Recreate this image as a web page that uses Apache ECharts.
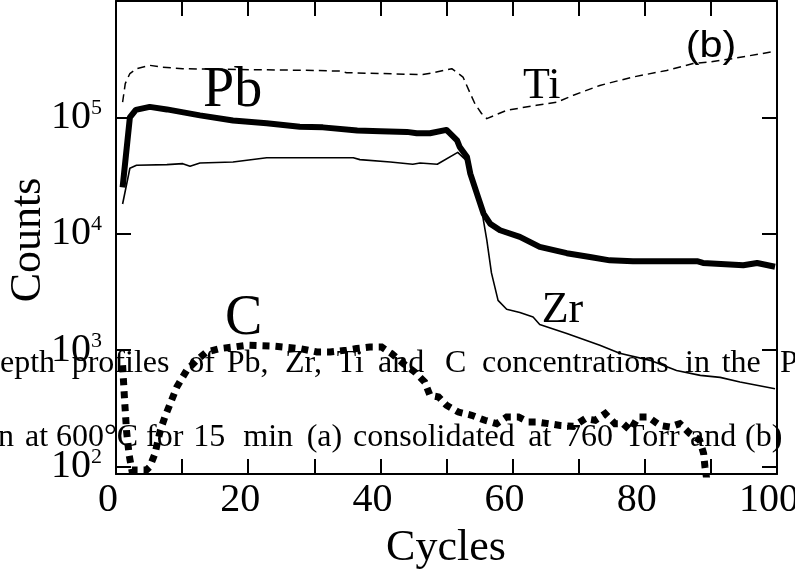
<!DOCTYPE html>
<html>
<head>
<meta charset="utf-8">
<script src="https://cdn.jsdelivr.net/npm/echarts@6/dist/echarts.min.js"></script>
<style>
  html, body { margin: 0; padding: 0; background: #fff; }
  #chart { width: 795px; height: 580px; }
</style>
</head>
<body>
<div id="chart"></div>
<script>
// Depth profile data: sputter cycle vs. counts (log scale)
const pbCycles = [1, 2.1, 3, 5.1, 7.7, 12.7, 17.7, 22.8, 27.8, 31.3, 36.5, 40, 44, 45.5, 47.5, 50, 51.6, 52, 53.1, 53.6, 54.6, 55.6, 56.6, 58.1, 61.1, 64.1, 68.2, 71.7, 74.7, 78.2, 87.9, 88.8, 94.9, 97, 99.7];
const pbCounts = [25000, 100000, 116000, 123000, 117000, 104000, 94000, 89000, 83000, 82000, 77000, 76000, 75000, 73000, 73000, 78000, 63400, 55600, 45600, 32800, 22100, 14900, 12200, 10700, 9400, 7700, 6800, 6300, 5900, 5800, 5800, 5600, 5350, 5600, 5200];

const zrCycles = [1, 2.1, 3.1, 7.7, 10.1, 11.2, 12.7, 17.7, 22.8, 35.9, 36.9, 41.5, 44.9, 46, 48.6, 51.7, 53.1, 53.6, 54.6, 55.4, 56.1, 56.8, 57.8, 59.1, 61.1, 63.1, 64.1, 68.2, 73.2, 76.2, 80.8, 84.8, 88.4, 91.4, 94.4, 99.7];
const zrCounts = [18000, 36500, 38700, 39200, 40000, 38000, 40500, 41300, 45000, 45000, 43300, 41300, 39500, 40500, 39500, 50000, 42000, 31000, 21000, 15000, 8800, 4600, 2670, 2240, 2100, 1920, 1660, 1390, 1100, 937, 815, 668, 606, 582, 531, 464];

const tiCycles = [1, 1.4, 2.1, 3.1, 5.1, 6.7, 10.1, 20.3, 27.8, 33.9, 34.9, 46.4, 48, 50.8, 52.5, 53.6, 54.3, 55.3, 56.1, 59.1, 63.6, 66.7, 69.2, 73.2, 76.2, 78.2, 83.3, 87.3, 89.9, 93.3, 99.7];
const tiCounts = [135000, 195000, 238000, 262000, 280000, 271000, 262000, 257000, 254000, 250000, 242000, 233000, 242000, 262000, 222000, 160000, 131000, 108000, 97500, 115000, 127000, 135000, 155000, 188000, 208000, 222000, 253000, 290000, 299000, 320000, 369000];

const cCycles = [1, 1.3, 1.6, 2, 2.4, 3.5, 4.6, 5.1, 5.9, 6.7, 7.4, 8.2, 9.2, 10.7, 12.2, 13.7, 15.7, 17.7, 19.8, 23.8, 27.8, 30.4, 32.4, 34.9, 36.4, 38.4, 40.2, 41.7, 43.5, 45.2, 46.7, 47.5, 48.8, 50, 51.8, 53.8, 55.8, 57.6, 59.1, 60.9, 62.4, 63.6, 65.4, 67.2, 69.2, 71, 72.5, 74, 75.5, 76.7, 77.8, 79, 80.5, 82.3, 83.8, 85.3, 86.8, 88.3, 88.9, 89.1, 89.4];
const cCounts = [740, 370, 200, 124, 93, 93, 93, 99, 129, 204, 266, 346, 481, 670, 815, 962, 1030, 1060, 1100, 1080, 1030, 962, 962, 998, 1030, 1060, 1060, 931, 764, 647, 531, 408, 395, 335, 293, 275, 249, 233, 266, 266, 241, 241, 233, 225, 221, 257, 249, 284, 233, 233, 204, 266, 266, 225, 218, 233, 192, 168, 129, 99, 75];

const xTickLabels = [0, 20, 40, 60, 80, 100];
const yTickValues = [100, 1000, 10000, 100000];

// Caption words (set justified, so each word sits at its own x)
const captionLine1 = ['epth', 'profiles', 'of', 'Pb,', 'Zr,', 'Ti', 'and', 'C', 'concentrations', 'in', 'the', 'P'];
const captionLine1X = [0, 71.7, 188.3, 226.7, 285, 336.7, 378, 445, 482, 685, 721.7, 780];
const captionLine2 = ['n', 'at', '600°C', 'for', '15', 'min', '(a)', 'consolidated', 'at', '760', 'Torr', 'and', '(b)'];
const captionLine2X = [-2, 25, 56, 146, 193.3, 243.3, 306.7, 353, 528.3, 565, 625, 690, 745];

const SERIF = '"Liberation Serif", "Times New Roman", serif';
const SANS = '"Liberation Sans", Arial, sans-serif';

function pairs(xs, ys) { return xs.map((x, i) => [x, ys[i]]); }

function serifText(str, x, baseline, size, align, extra) {
  // middle of the em box sits ~0.3375em above the alphabetic baseline
  return Object.assign({
    type: 'text', x: x, y: baseline - 0.3375 * size, z: 1, silent: true,
    style: {
      text: str, font: size + 'px ' + SERIF, fill: '#000',
      align: align, textAlign: align, verticalAlign: 'middle', textVerticalAlign: 'middle'
    }
  }, extra || {});
}

const graphics = [];
captionLine1.forEach((w, i) => graphics.push(serifText(w, captionLine1X[i], 374, 32, 'left')));
captionLine2.forEach((w, i) => graphics.push(serifText(w, captionLine2X[i], 448, 32, 'left')));
graphics.push(serifText('Pb', 203, 110, 56, 'left'));
graphics.push(serifText('C', 225, 338, 56, 'left'));
graphics.push(serifText('Ti', 523, 101.7, 44, 'left'));
graphics.push(serifText('Zr', 541.7, 325, 44, 'left'));
graphics.push(serifText('Cycles', 446, 563, 44, 'center'));
graphics.push({
  type: 'text', x: 28.5, y: 240, rotation: Math.PI / 2, z: 1, silent: true,
  style: { text: 'Counts', font: '44px ' + SERIF, fill: '#000',
    align: 'center', textAlign: 'center', verticalAlign: 'middle', textVerticalAlign: 'middle' }
});
graphics.push({
  type: 'text', x: 711, y: 47, scaleX: 1.15, z: 1, silent: true,
  style: { text: '(b)', font: '36px ' + SANS, fill: '#000',
    align: 'center', textAlign: 'center', verticalAlign: 'middle', textVerticalAlign: 'middle' }
});

const axisLine = { show: true, onZero: false, lineStyle: { color: '#000', width: 2 } };
const xTick = { show: true, inside: true, length: 15, lineStyle: { color: '#000', width: 2 } };
const yTick = { show: true, inside: true, length: 15, customValues: yTickValues, lineStyle: { color: '#000', width: 2 } };

function yLabel(v) {
  const e = Math.round(Math.log10(v));
  if (e < 2 || e > 5 || Math.abs(v / Math.pow(10, e) - 1) > 1e-6) return '';
  return '{b|10}{s|' + e + '}';
}

const chart = echarts.init(document.getElementById('chart'), null, { renderer: 'canvas' });
chart.setOption({
  animation: false,
  backgroundColor: '#fff',
  tooltip: { show: false },
  grid: { left: 116, top: 1, width: 661, height: 473, containLabel: false, outerBoundsMode: 'none' },
  xAxis: [
    {
      type: 'value', position: 'bottom', min: 0, max: 100, interval: 10,
      axisLine: axisLine, axisTick: xTick, splitLine: { show: false },
      axisLabel: {
        margin: 6, fontFamily: SERIF, fontSize: 40, color: '#000', padding: [0, 16, 0, 0],
        formatter: v => xTickLabels.indexOf(Math.round(v)) >= 0 && Math.abs(v - Math.round(v)) < 1e-6 ? String(Math.round(v)) : ''
      }
    },
    {
      type: 'value', position: 'top', min: 0, max: 100, interval: 10,
      axisLine: axisLine, axisTick: xTick, splitLine: { show: false }, axisLabel: { show: false }
    }
  ],
  yAxis: [
    {
      type: 'log', logBase: 10, position: 'left', min: 86, max: 1000000,
      axisLine: axisLine, axisTick: yTick, splitLine: { show: false }, minorTick: { show: false },
      axisLabel: {
        customValues: yTickValues, margin: 14, formatter: yLabel,
        rich: {
          b: { fontFamily: SERIF, fontSize: 40, lineHeight: 40, color: '#000' },
          s: { fontFamily: SERIF, fontSize: 22, lineHeight: 22, verticalAlign: 'top', color: '#000' }
        }
      }
    },
    {
      type: 'log', logBase: 10, position: 'right', min: 86, max: 1000000,
      axisLine: axisLine, axisTick: yTick, splitLine: { show: false }, minorTick: { show: false },
      axisLabel: { show: false }
    }
  ],
  graphic: graphics,
  series: [
    {
      name: 'Ti', type: 'line', data: pairs(tiCycles, tiCounts), showSymbol: false, symbol: 'none',
      silent: true, clip: true, z: 3,
      lineStyle: { color: '#000', width: 1.5, type: [8, 5], join: 'round' }
    },
    {
      name: 'Zr', type: 'line', data: pairs(zrCycles, zrCounts), showSymbol: false, symbol: 'none',
      silent: true, clip: true, z: 3,
      lineStyle: { color: '#000', width: 1.6, join: 'round' }
    },
    {
      name: 'Pb', type: 'line', data: pairs(pbCycles, pbCounts), showSymbol: false, symbol: 'none',
      silent: true, clip: true, z: 4,
      lineStyle: { color: '#000', width: 6, join: 'round' }
    },
    {
      name: 'C', type: 'line', data: pairs(cCycles, cCounts), showSymbol: false, symbol: 'none',
      silent: true, clip: true, z: 4,
      lineStyle: { color: '#000', width: 7, type: [7, 6], cap: 'butt', join: 'miter' }
    }
  ]
});
</script>
</body>
</html>
